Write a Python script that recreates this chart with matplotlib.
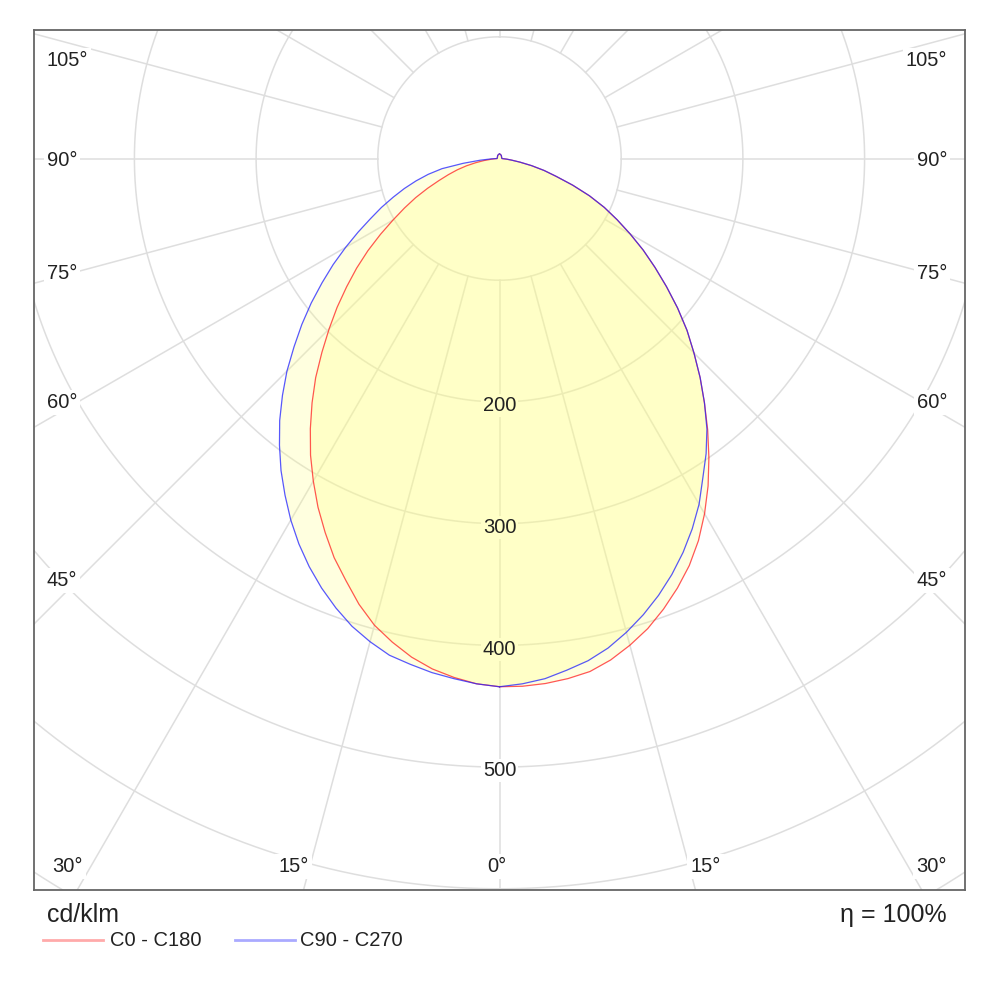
import numpy as np
import matplotlib.pyplot as plt

plt.rcParams['font.family'] = ['Liberation Sans', 'DejaVu Sans']

gamma = [0, 2.5, 5, 7.5, 10, 12.5, 15, 17.5, 20, 22.5, 25, 27.5, 30, 32.5, 35, 37.5,
         40, 42.5, 45, 47.5, 50, 52.5, 55, 57.5, 60, 62.5, 65, 67.5, 70, 72.5, 75,
         77.5, 80, 82.5, 85, 87.5, 90, 120, 150, 180]
c0 = [434, 434, 433, 431, 428, 422, 414, 405, 394, 382, 369, 354, 337, 319, 300, 281,
      262, 244, 226, 209, 191, 173, 156, 140, 124, 109, 95, 80, 64, 49, 38,
      27, 17, 10, 6, 3, 2, 2, 3, 4]
c180 = [434, 432, 428, 423, 416, 407, 397, 384, 369, 355, 339, 323, 306, 289, 271, 253,
        235, 216, 198, 181, 164, 148, 132, 116, 101, 88, 76, 64, 53, 44, 36,
        28, 20, 13, 7, 4, 2, 2, 3, 4]
c90 = [434, 432, 429, 424, 419, 412, 403, 393, 382, 370, 357, 343, 328, 311, 296, 280,
       262, 244, 226, 209, 191, 173, 156, 140, 124, 109, 95, 80, 64, 49, 38,
       27, 17, 10, 6, 3, 2, 2, 3, 4]
c270 = [434, 432, 429, 426, 422, 418, 411, 403, 393, 382, 370, 357, 343, 328, 313, 297,
        281, 264, 247, 229, 212, 195, 178, 162, 146, 131, 117, 105, 93, 82, 71,
        60, 48, 30, 16, 7, 2, 2, 3, 4]

rings = [100, 200, 300, 400, 500, 600, 700, 800]
ring_labels = [200, 300, 400, 500]
side_angles = [45, 60, 75, 90, 105]
bottom_angles = [0, 15, 30]

fig = plt.figure(figsize=(10, 10), dpi=100)
ax = fig.add_axes([0.034, 0.11, 0.931, 0.86])
ax.set_xlim(-382.5, 382.5)
ax.set_ylim(-601, 105.6)
ax.set_xticks([])
ax.set_yticks([])
for s in ax.spines.values():
    s.set_color('#666666')
    s.set_linewidth(1.3)

grid_col = '#dedede'
t = np.linspace(0, 2 * np.pi, 721)
for r in rings:
    ax.plot(r * np.sin(t), r * np.cos(t), color=grid_col, lw=1.1, zorder=1)
for a in range(0, 360, 15):
    ar = np.radians(a)
    ax.plot([100 * np.sin(ar), 1200 * np.sin(ar)], [-100 * np.cos(ar), -1200 * np.cos(ar)],
            color=grid_col, lw=1.1, zorder=1)

# ring values along the nadir line: white patch under the fill, text on top
for v in ring_labels:
    ax.text(0, -v - 3, str(v), ha='center', va='center', fontsize=14.5, color='none', zorder=2,
            bbox=dict(boxstyle='square,pad=0.1', fc='white', ec='none'))
    ax.text(0, -v - 3, str(v), ha='center', va='center', fontsize=14.5, color='#222222', zorder=6)


def plane(right, left):
    g = np.radians(gamma)
    xr = np.array(right) * np.sin(g)
    yr = -np.array(right) * np.cos(g)
    xl = -np.array(left) * np.sin(g)
    yl = -np.array(left) * np.cos(g)
    return np.concatenate([xr, xl[::-1]]), np.concatenate([yr, yl[::-1]])


x_red, y_red = plane(c0, c180)
x_blue, y_blue = plane(c90, c270)
ax.fill(x_red, y_red, color='#ffff80', alpha=0.25, lw=0, zorder=3)
ax.fill(x_blue, y_blue, color='#ffff80', alpha=0.25, lw=0, zorder=3)
ax.plot(x_red, y_red, color='#ff2020', lw=0.9, alpha=0.75, zorder=4)
ax.plot(x_blue, y_blue, color='#2020ff', lw=0.9, alpha=0.75, zorder=4)

# angle labels
lab_kw = dict(fontsize=14.5, color='#222222', va='center', zorder=5,
              bbox=dict(boxstyle='square,pad=0.15', fc='white', ec='none'))
for a in side_angles:
    y = -345.1 / np.tan(np.radians(a))
    y = min(y, 81.8) - 1.6
    ax.text(-372.2, y, f'{a}°', ha='left', **lab_kw)
    ax.text(368.0, y, f'{a}°', ha='right', **lab_kw)
for a in bottom_angles:
    xb = 601 * np.tan(np.radians(a))
    off = 8.2 if a else 2.5
    ax.text(-(xb + off), -582.0, f'{a}°', ha='center', **lab_kw)
    if a:
        ax.text(xb + off, -582.0, f'{a}°', ha='center', **lab_kw)

# units, legend and efficiency under the frame
fig.text(0.047, 0.085, 'cd/klm', fontsize=18, color='#222222', va='center')
fig.text(0.947, 0.085, 'η = 100%', fontsize=18, color='#222222', va='center', ha='right')
fig.add_artist(plt.Line2D([0.043, 0.103], [0.06, 0.06], color='#ffaaaa', lw=2))
fig.text(0.110, 0.06, 'C0 - C180', fontsize=14.5, color='#222222', va='center')
fig.add_artist(plt.Line2D([0.235, 0.295], [0.06, 0.06], color='#aaaaff', lw=2))
fig.text(0.300, 0.06, 'C90 - C270', fontsize=14.5, color='#222222', va='center')

fig.savefig('out.png', dpi=100)
